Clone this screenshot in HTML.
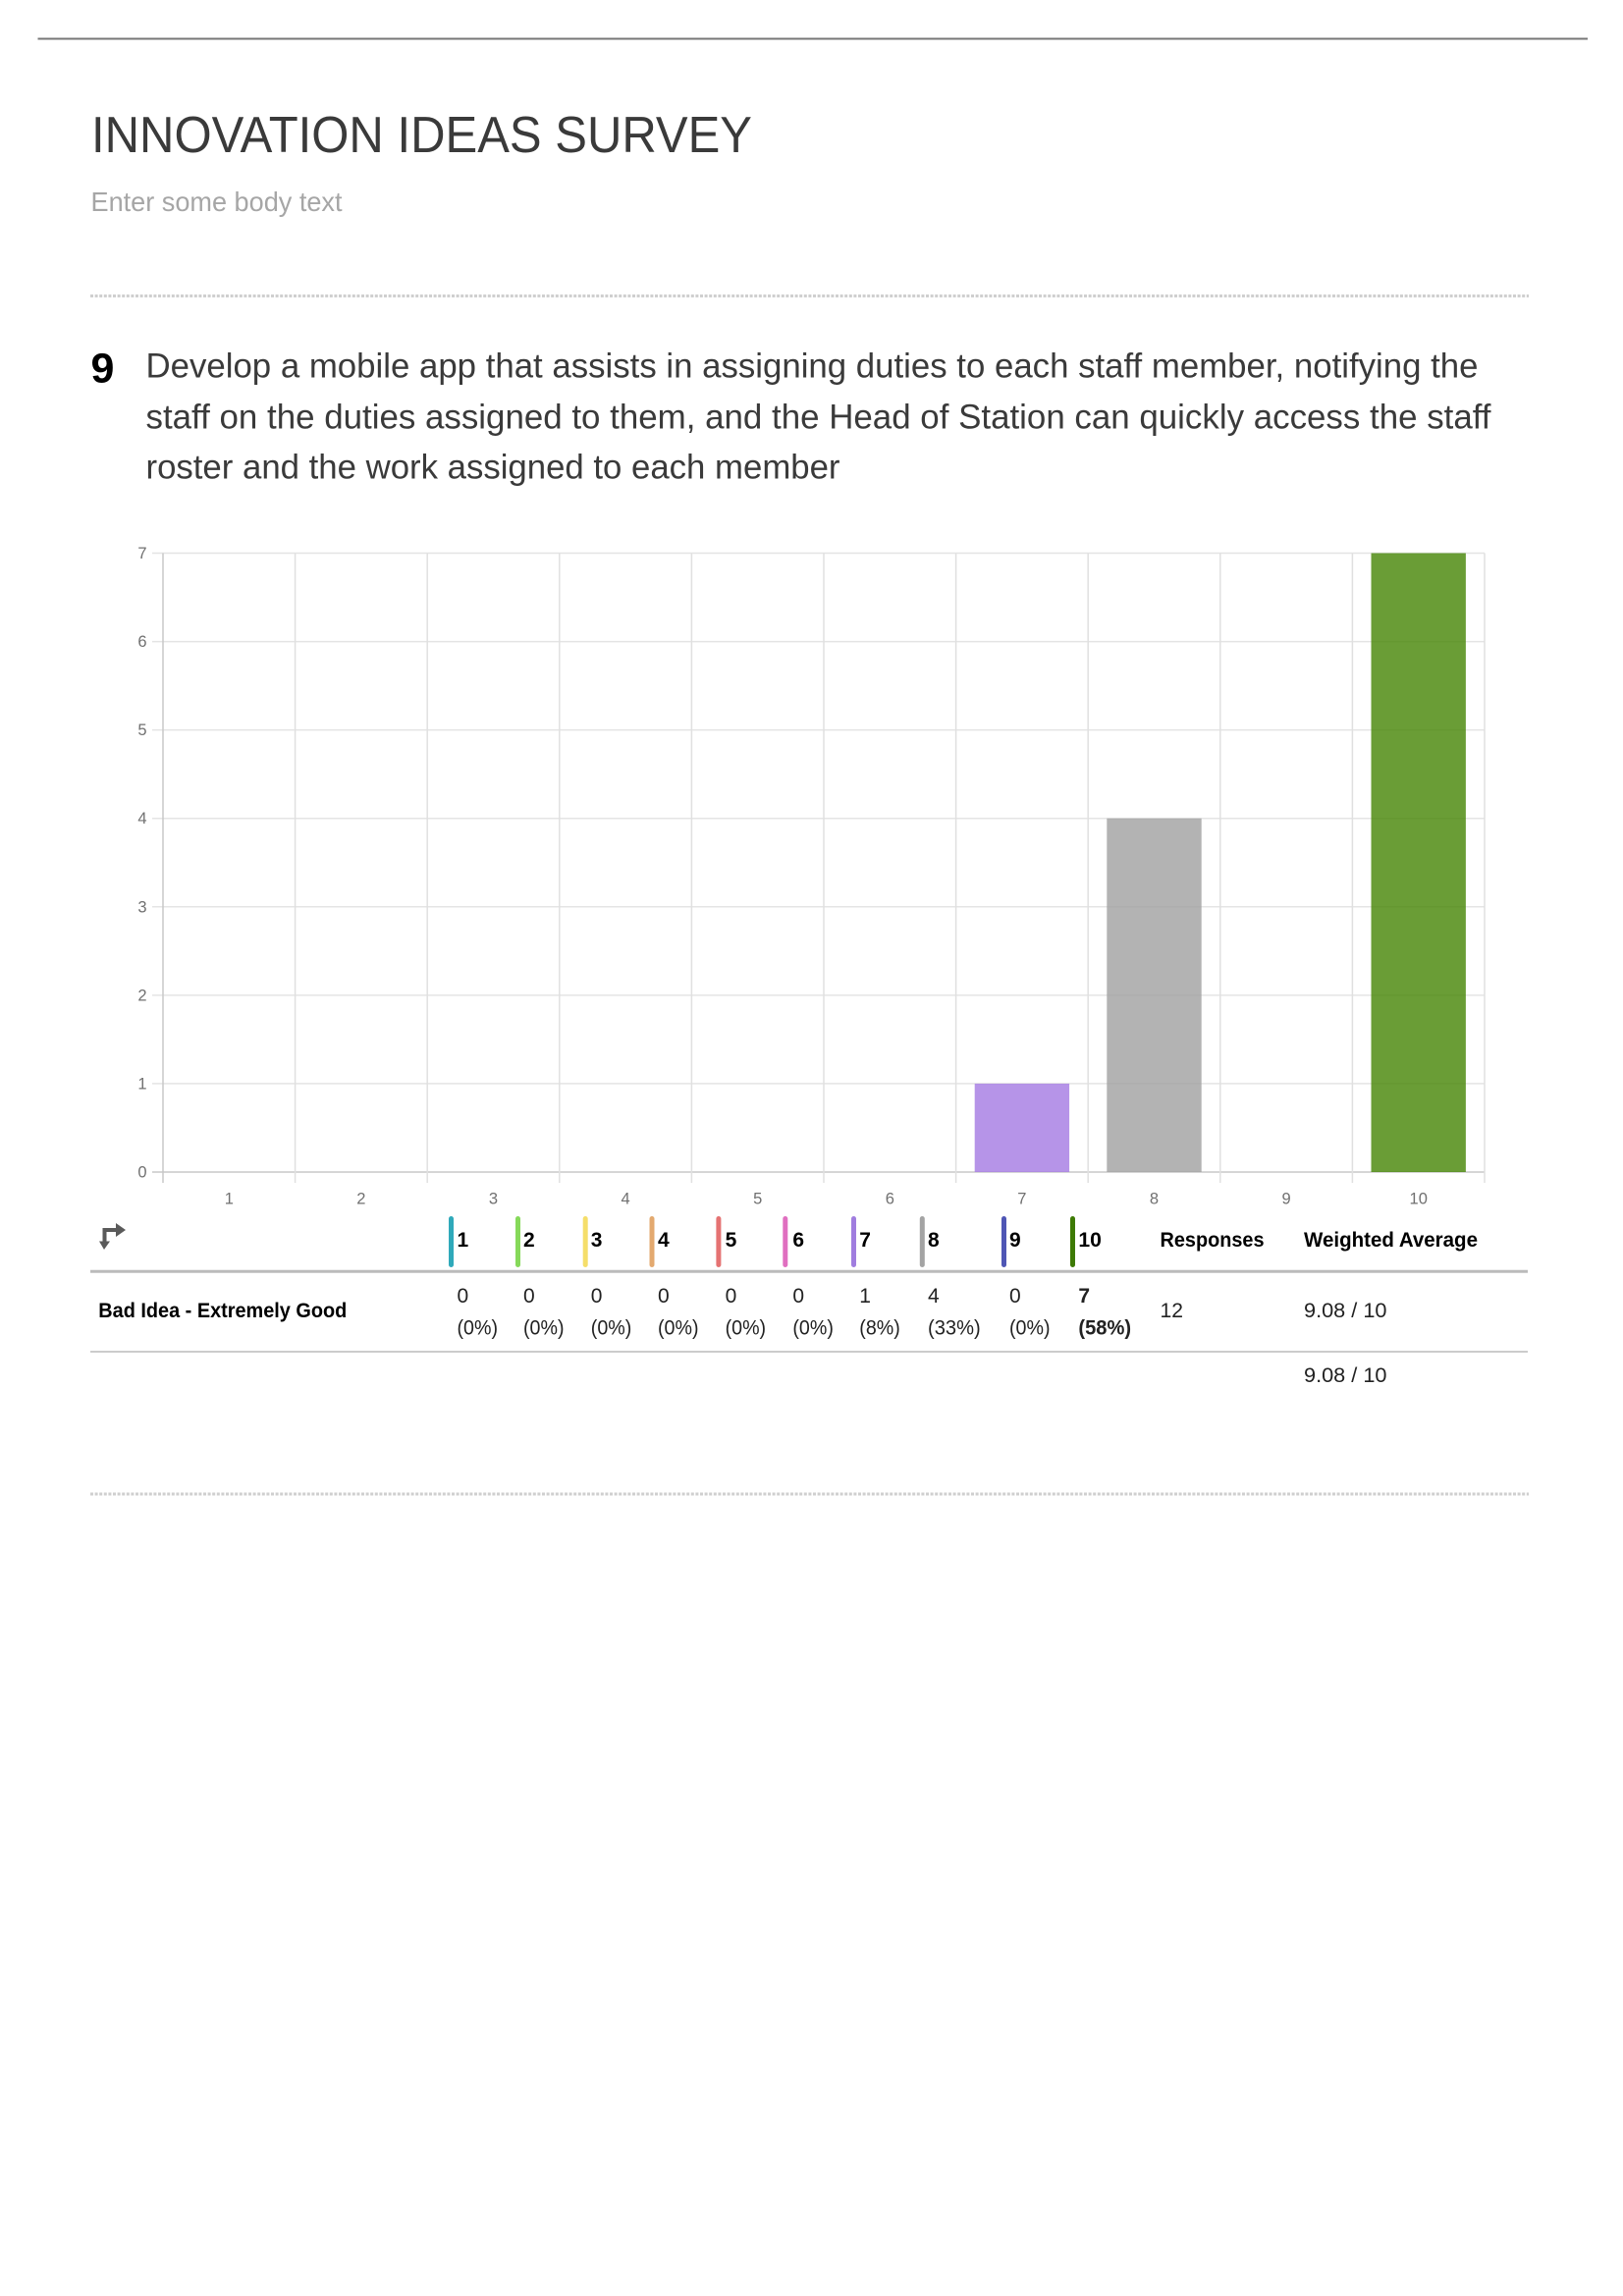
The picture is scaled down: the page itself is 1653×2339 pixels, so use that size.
<!DOCTYPE html>
<html lang="en">
<head>
<meta charset="utf-8">
<title>Innovation Ideas Survey</title>
<style>
html,body{margin:0;padding:0;background:#fff;}
body{width:1653px;height:2339px;overflow:hidden;}
svg{display:block;font-family:"Liberation Sans",Arial,sans-serif;}
.cell{font-size:21px;fill:#222;}
.head{font-size:21px;font-weight:bold;fill:#000;}
</style>
</head>
<body>
<svg id="page" width="1653" height="2339" viewBox="0 0 1653 2339" xmlns="http://www.w3.org/2000/svg">
  <rect width="1653" height="2339" fill="#fff"/>
  <line x1="38.5" y1="39.5" x2="1617" y2="39.5" stroke="#777" stroke-width="2"/>

  <text x="93" y="155" font-size="52" fill="#3a3a3a" textLength="673" lengthAdjust="spacingAndGlyphs">INNOVATION IDEAS SURVEY</text>
  <text x="92.5" y="215" font-size="28" fill="#a6a6a6" textLength="256" lengthAdjust="spacingAndGlyphs">Enter some body text</text>

  <line x1="92" y1="301.5" x2="1557" y2="301.5" stroke="#cfcfcf" stroke-width="3" stroke-dasharray="3 1.6"/>

  <text x="92.5" y="389.5" font-size="43" font-weight="bold" fill="#000">9</text>
  <g font-size="35" fill="#3a3a3a">
    <text x="148.5" y="384.5" textLength="1357" lengthAdjust="spacingAndGlyphs">Develop a mobile app that assists in assigning duties to each staff member, notifying the</text>
    <text x="148.5" y="436.3" textLength="1370" lengthAdjust="spacingAndGlyphs">staff on the duties assigned to them, and the Head of Station can quickly access the staff</text>
    <text x="148.5" y="487.5" textLength="707" lengthAdjust="spacingAndGlyphs">roster and the work assigned to each member</text>
  </g>

  <g id="chart"></g>

  <g fill="#5a5a5a">
    <path d="M106 1273 L101 1264.5 L104.5 1264.5 L104.5 1251 L118 1251 L118 1246 L128 1253 L118 1260 L118 1255 L108.5 1255 L108.5 1264.5 L112 1264.5 Z"/>
  </g>

  <g>
    <rect x="457" y="1239" width="5" height="52" rx="2.5" fill="#2fa9ba"/>
    <rect x="525" y="1239" width="5" height="52" rx="2.5" fill="#86d95a"/>
    <rect x="593.7" y="1239" width="5" height="52" rx="2.5" fill="#f5de6a"/>
    <rect x="661.5" y="1239" width="5" height="52" rx="2.5" fill="#e3a96f"/>
    <rect x="729.4" y="1239" width="5" height="52" rx="2.5" fill="#e57373"/>
    <rect x="797.3" y="1239" width="5" height="52" rx="2.5" fill="#e06fc0"/>
    <rect x="867" y="1239" width="5" height="52" rx="2.5" fill="#a07ddf"/>
    <rect x="936.8" y="1239" width="5" height="52" rx="2.5" fill="#a3a3a3"/>
    <rect x="1020" y="1239" width="5" height="52" rx="2.5" fill="#4f56b5"/>
    <rect x="1090" y="1239" width="5" height="52" rx="2.5" fill="#3d7a05"/>

    <text class="head" x="465.5" y="1270">1</text>
    <text class="head" x="533" y="1270">2</text>
    <text class="head" x="601.8" y="1270">3</text>
    <text class="head" x="670" y="1270">4</text>
    <text class="head" x="738.6" y="1270">5</text>
    <text class="head" x="807.4" y="1270">6</text>
    <text class="head" x="875.3" y="1270">7</text>
    <text class="head" x="945" y="1270">8</text>
    <text class="head" x="1028" y="1270">9</text>
    <text class="head" x="1098.4" y="1270" textLength="23.5" lengthAdjust="spacingAndGlyphs">10</text>
    <text class="head" x="1181.5" y="1270" textLength="106" lengthAdjust="spacingAndGlyphs">Responses</text>
    <text class="head" x="1328" y="1270" textLength="177" lengthAdjust="spacingAndGlyphs">Weighted Average</text>
  </g>
  <line x1="92" y1="1295.3" x2="1556" y2="1295.3" stroke="#bbb" stroke-width="3"/>

  <g>
    <text class="head" x="100.3" y="1342" textLength="253" lengthAdjust="spacingAndGlyphs">Bad Idea - Extremely Good</text>

    <text class="cell" x="465.5" y="1327">0</text>
    <text class="cell" x="533" y="1327">0</text>
    <text class="cell" x="601.8" y="1327">0</text>
    <text class="cell" x="670" y="1327">0</text>
    <text class="cell" x="738.6" y="1327">0</text>
    <text class="cell" x="807.4" y="1327">0</text>
    <text class="cell" x="875.3" y="1327">1</text>
    <text class="cell" x="945" y="1327">4</text>
    <text class="cell" x="1028" y="1327">0</text>
    <text class="cell" x="1098.4" y="1327" font-weight="bold">7</text>

    <text class="cell" x="465.5" y="1359.5" textLength="41.5" lengthAdjust="spacingAndGlyphs">(0%)</text>
    <text class="cell" x="533" y="1359.5" textLength="41.5" lengthAdjust="spacingAndGlyphs">(0%)</text>
    <text class="cell" x="601.8" y="1359.5" textLength="41.5" lengthAdjust="spacingAndGlyphs">(0%)</text>
    <text class="cell" x="670" y="1359.5" textLength="41.5" lengthAdjust="spacingAndGlyphs">(0%)</text>
    <text class="cell" x="738.6" y="1359.5" textLength="41.5" lengthAdjust="spacingAndGlyphs">(0%)</text>
    <text class="cell" x="807.4" y="1359.5" textLength="41.5" lengthAdjust="spacingAndGlyphs">(0%)</text>
    <text class="cell" x="875.3" y="1359.5" textLength="41.5" lengthAdjust="spacingAndGlyphs">(8%)</text>
    <text class="cell" x="945" y="1359.5" textLength="53.7" lengthAdjust="spacingAndGlyphs">(33%)</text>
    <text class="cell" x="1028" y="1359.5" textLength="41.5" lengthAdjust="spacingAndGlyphs">(0%)</text>
    <text class="cell" x="1098.4" y="1359.5" font-weight="bold" textLength="53.7" lengthAdjust="spacingAndGlyphs">(58%)</text>

    <text class="cell" x="1181.5" y="1342" textLength="23.5" lengthAdjust="spacingAndGlyphs">12</text>
    <text class="cell" x="1328" y="1342" textLength="84.5" lengthAdjust="spacingAndGlyphs">9.08 / 10</text>
  </g>
  <line x1="92" y1="1377" x2="1556" y2="1377" stroke="#ccc" stroke-width="2"/>
  <text class="cell" x="1328" y="1408" textLength="84.5" lengthAdjust="spacingAndGlyphs">9.08 / 10</text>

  <line x1="92" y1="1522" x2="1557" y2="1522" stroke="#cfcfcf" stroke-width="3" stroke-dasharray="3 1.6"/>
</svg>
<script>
const categories = ['1', '2', '3', '4', '5', '6', '7', '8', '9', '10'];
const responseCounts = [0, 0, 0, 0, 0, 0, 1, 4, 0, 7];
const yTickLabels = [0, 1, 2, 3, 4, 5, 6, 7];
const barColors = ['#2fa9ba', '#86d95a', '#f5de6a', '#e3a96f', '#e57373', '#e06fc0', '#a479e2', '#a0a0a0', '#4f56b5', '#458504'];

const SVG_NS = 'http://www.w3.org/2000/svg';
const chart = document.getElementById('chart');
const plotLeft = 166;
const plotRight = 1512;
const plotTop = 563.5;
const plotBottom = 1194;
const yMax = yTickLabels[yTickLabels.length - 1];
const bandWidth = (plotRight - plotLeft) / categories.length;
const barRatio = 0.716;

function xEdge(i) { return plotLeft + i * bandWidth; }
function xCenter(i) { return xEdge(i) + bandWidth / 2; }
function yScale(v) { return plotBottom - (v / yMax) * (plotBottom - plotTop); }

function make(tag) { return document.createElementNS(SVG_NS, tag); }

function setLine(el, x1, y1, x2, y2, color, width) {
  el.setAttribute('x1', x1);
  el.setAttribute('y1', y1);
  el.setAttribute('x2', x2);
  el.setAttribute('y2', y2);
  el.setAttribute('stroke', color);
  el.setAttribute('stroke-width', width);
}

yTickLabels.forEach(function (tick) {
  const y = yScale(tick);
  const grid = make('line');
  setLine(grid, plotLeft - 11, y, plotRight, y, tick === 0 ? '#c8c8c8' : '#e4e4e4', 1.5);
  
  
  chart.appendChild(grid);

  const label = make('text');
  label.setAttribute('x', plotLeft - 16.5);
  label.setAttribute('y', y + 5.5);
  label.setAttribute('text-anchor', 'end');
  label.setAttribute('font-size', '16.5');
  label.setAttribute('fill', '#707070');
  label.textContent = tick;
  
  
  chart.appendChild(label);
});

for (let i = 0; i <= categories.length; i++) {
  const grid = make('line');
  setLine(grid, xEdge(i), plotTop, xEdge(i), plotBottom + 11, i === 0 ? '#c8c8c8' : '#e0e0e0', 1.5);
  
  
  chart.appendChild(grid);
}

categories.forEach(function (cat, i) {
  const label = make('text');
  label.setAttribute('x', xCenter(i));
  label.setAttribute('y', plotBottom + 32.5);
  label.setAttribute('text-anchor', 'middle');
  label.setAttribute('font-size', '16.5');
  label.setAttribute('fill', '#707070');
  label.textContent = cat;
  
  
  chart.appendChild(label);
});

responseCounts.forEach(function (value, i) {
  const barWidth = bandWidth * barRatio;
  const bar = make('rect');
  bar.setAttribute('x', xCenter(i) - barWidth / 2);
  bar.setAttribute('y', yScale(value));
  bar.setAttribute('width', barWidth);
  bar.setAttribute('height', plotBottom - yScale(value));
  bar.setAttribute('fill', barColors[i]);
  bar.setAttribute('fill-opacity', '0.8');
  
  
  chart.appendChild(bar);
});
</script>
</body>
</html>
